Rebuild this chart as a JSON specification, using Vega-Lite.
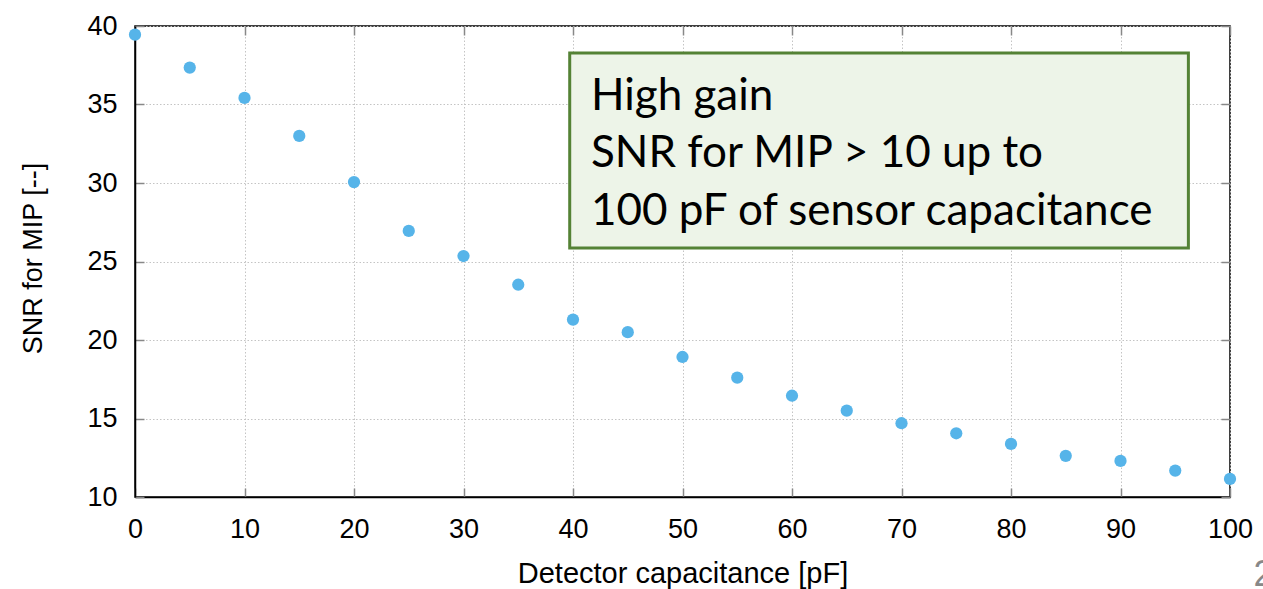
{
  "$schema": "https://vega.github.io/schema/vega-lite/v6.json",
  "width": 1095,
  "height": 471,
  "autosize": {"type": "none"},
  "padding": {"left": 135, "top": 26, "right": 33, "bottom": 92},
  "background": "white",
  "config": {
    "view": {"stroke": "#000000", "strokeWidth": 1.5},
    "font": "Liberation Sans"
  },
  "data": {
    "values": [
      {"capacitance": 0, "snr": 39.45},
      {"capacitance": 5, "snr": 37.35},
      {"capacitance": 10, "snr": 35.42},
      {"capacitance": 15, "snr": 33.0},
      {"capacitance": 20, "snr": 30.06},
      {"capacitance": 25, "snr": 26.95},
      {"capacitance": 30, "snr": 25.35},
      {"capacitance": 35, "snr": 23.52},
      {"capacitance": 40, "snr": 21.3},
      {"capacitance": 45, "snr": 20.5},
      {"capacitance": 50, "snr": 18.92},
      {"capacitance": 55, "snr": 17.6},
      {"capacitance": 60, "snr": 16.45},
      {"capacitance": 65, "snr": 15.5},
      {"capacitance": 70, "snr": 14.7},
      {"capacitance": 75, "snr": 14.06},
      {"capacitance": 80, "snr": 13.38},
      {"capacitance": 85, "snr": 12.62},
      {"capacitance": 90, "snr": 12.3},
      {"capacitance": 95, "snr": 11.68},
      {"capacitance": 100, "snr": 11.15}
    ]
  },
  "resolve": {"axis": {"x": "independent", "y": "independent"}},
  "layer": [
    {
      "mark": {"type": "point", "filled": true, "opacity": 1, "size": 150, "color": "#56b4e9", "clip": false},
      "encoding": {
        "x": {
          "field": "capacitance", "type": "quantitative",
          "scale": {"domain": [0, 100], "nice": false, "zero": false},
          "axis": {
            "orient": "bottom",
            "title": "Detector capacitance [pF]",
            "values": [0, 10, 20, 30, 40, 50, 60, 70, 80, 90, 100],
            "grid": true, "gridColor": "#c4c4c4", "gridDash": [1.5, 2], "gridWidth": 1,
            "domainColor": "#000000", "domainWidth": 1.5,
            "tickColor": "#888888", "tickSize": -9, "tickWidth": 1.5,
            "labelPadding": 28, "labelFontSize": 27, "labelColor": "#000000", "labelFont": "Liberation Sans",
            "labelFlush": false, "labelOverlap": false,
            "titleFontSize": 29, "titleFontWeight": "normal", "titleColor": "#000000", "titleFont": "Liberation Sans",
            "titleY": 76, "titleBaseline": "middle"
          }
        },
        "y": {
          "field": "snr", "type": "quantitative",
          "scale": {"domain": [10, 40], "nice": false, "zero": false},
          "axis": {
            "orient": "left",
            "title": "SNR for MIP [--]",
            "values": [10, 15, 20, 25, 30, 35, 40],
            "grid": true, "gridColor": "#c4c4c4", "gridDash": [1.5, 2], "gridWidth": 1,
            "domainColor": "#000000", "domainWidth": 1.5,
            "tickColor": "#888888", "tickSize": -9, "tickWidth": 1.5,
            "labelPadding": 27, "labelFontSize": 27, "labelColor": "#000000", "labelFont": "Liberation Sans",
            "labelFlush": false, "labelOverlap": false,
            "titleFontSize": 27, "titleFontWeight": "normal", "titleColor": "#000000", "titleFont": "Liberation Sans",
            "titleX": -102, "titleY": 232, "titleAngle": -90, "titleAlign": "center", "titleBaseline": "middle"
          }
        }
      }
    },
    {
      "data": {"values": [{}]},
      "mark": {"type": "rule", "opacity": 0},
      "encoding": {
        "x": {
          "datum": 0, "type": "quantitative",
          "axis": {
            "orient": "top", "title": null, "labels": false, "grid": false, "domain": false,
            "values": [0, 10, 20, 30, 40, 50, 60, 70, 80, 90, 100],
            "tickColor": "#888888", "tickSize": -9, "tickWidth": 1.5
          }
        },
        "y": {
          "datum": 10, "type": "quantitative",
          "axis": {
            "orient": "right", "title": null, "labels": false, "grid": false, "domain": false,
            "values": [10, 15, 20, 25, 30, 35, 40],
            "tickColor": "#888888", "tickSize": -9, "tickWidth": 1.5
          }
        }
      }
    },
    {
      "data": {"values": [{}]},
      "mark": {"type": "rect", "fill": "#edf4e8", "stroke": "#548235", "strokeWidth": 3},
      "encoding": {
        "x": {"datum": 39.7, "type": "quantitative", "axis": null},
        "x2": {"datum": 96.2},
        "y": {"datum": 38.28, "type": "quantitative", "axis": null},
        "y2": {"datum": 25.86}
      }
    },
    {
      "data": {"values": [{"label": ["High gain", "SNR for MIP > 10 up to", "100 pF of sensor capacitance"]}]},
      "mark": {"type": "text", "font": "Lato", "fontSize": 44, "align": "left", "baseline": "alphabetic", "lineHeight": 57.5, "color": "#000000"},
      "encoding": {
        "x": {"datum": 41.64, "type": "quantitative", "axis": null},
        "y": {"datum": 34.65, "type": "quantitative", "axis": null},
        "text": {"field": "label"}
      }
    },
    {
      "data": {"values": [{"page": "2"}]},
      "mark": {"type": "text", "font": "Liberation Sans", "fontSize": 36, "align": "left", "baseline": "alphabetic", "color": "#888888", "clip": false},
      "encoding": {
        "x": {"datum": 102.15, "type": "quantitative", "axis": null},
        "y": {"datum": 4.33, "type": "quantitative", "axis": null},
        "text": {"field": "page"}
      }
    }
  ]
}
